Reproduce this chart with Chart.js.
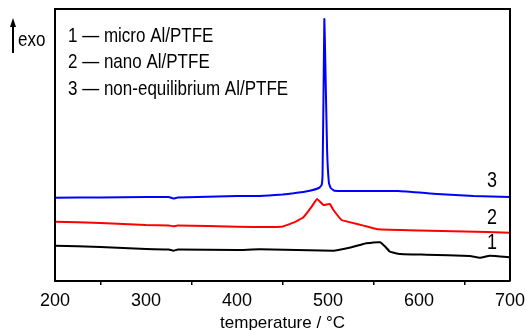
<!DOCTYPE html>
<html>
<head>
<meta charset="utf-8">
<script src="https://cdn.jsdelivr.net/npm/chart.js@4/dist/chart.umd.min.js"></script>
<style>
  html, body { margin: 0; padding: 0; background: #fff; }
  #wrap { width: 525px; height: 330px; }
</style>
</head>
<body>
<div id="wrap"><canvas id="dsc"></canvas></div>
<script>
// temperatures (°C) and heat-flow readings (arbitrary units, exo up)
const temp1 = [200, 250, 300, 325, 330, 335, 400, 425, 506, 521, 535, 542, 557, 563, 568, 579, 608, 656, 667, 678, 700];
const micro = [35.3, 34, 32, 31.5, 30.3, 31.5, 31, 31.7, 30.3, 32.7, 36, 37.7, 38.7, 34.3, 29.3, 27, 26.3, 25, 23.3, 25.3, 23.7];

const temp2 = [200, 250, 300, 325, 330, 335, 400, 449, 462, 473, 482, 488, 495, 502, 506, 515, 532, 544, 555, 600, 650, 700];
const nano = [59.3, 58, 56, 55.5, 54.7, 55.5, 54.3, 54.3, 58.3, 63.7, 74.3, 82, 76, 77, 71, 61, 57, 54.3, 51.7, 50.5, 49.5, 48.3];

const temp3 = [200, 250, 300, 325, 330, 335, 400, 425, 450, 462, 480, 490, 493, 494, 495, 496, 497, 499, 501, 503, 507, 520, 577, 620, 660, 700];
const nonEq = [83.3, 83.5, 84, 84, 82.5, 83.5, 85, 85, 86.5, 87.7, 90.3, 93, 96, 106, 181, 262, 221, 131, 98, 93, 90.3, 90, 90, 87, 85, 84];

const legendLines = ['1 \u2014 micro Al/PTFE', '2 \u2014 nano Al/PTFE', '3 \u2014 non-equilibrium Al/PTFE'];
const curveTags = ['1', '2', '3'];
const tagLevels = [38, 63, 100];

function pts(xs, ys) {
    return xs.map((x, i) => ({ x: x, y: ys[i] }));
}

const FONT = '"Liberation Sans", Arial, sans-serif';

// stretched text, the source figure has tall glyphs
function tallText(ctx, txt, x, y, size, align) {
    ctx.save();
    ctx.font = size + 'px ' + FONT;
    ctx.textAlign = align || 'left';
    ctx.textBaseline = 'middle';
    ctx.translate(x, y);
    ctx.scale(1, 1.2);
    ctx.fillText(txt, 0, 0);
    ctx.restore();
}

const decor = {
    id: 'decor',
    afterDraw(chart) {
        const ctx = chart.ctx;
        const a = chart.chartArea;
        const ys = chart.scales.y;
        ctx.save();
        // frame
        ctx.strokeStyle = '#000';
        ctx.lineWidth = 2;
        ctx.beginPath();
        ctx.moveTo(a.left, a.bottom);
        ctx.lineTo(a.left, a.top);
        ctx.lineTo(a.right, a.top);
        ctx.lineTo(a.right, a.bottom);
        ctx.stroke();

        ctx.fillStyle = '#000';
        legendLines.forEach((t, i) => tallText(ctx, t, a.left + 13, 36 + i * 26.5, 17));

        // exo arrow
        ctx.lineWidth = 2;
        ctx.beginPath();
        ctx.moveTo(13, 53);
        ctx.lineTo(13, 24);
        ctx.stroke();
        ctx.beginPath();
        ctx.moveTo(13, 18);
        ctx.lineTo(10, 27);
        ctx.lineTo(16, 27);
        ctx.closePath();
        ctx.fill();
        tallText(ctx, 'exo', 18, 40, 17);

        curveTags.forEach((t, i) => tallText(ctx, t, a.right - 18, ys.getPixelForValue(tagLevels[i]), 18, 'center'));
        ctx.restore();
    }
};

new Chart(document.getElementById('dsc'), {
    type: 'line',
    data: {
        datasets: [
            { label: 'micro Al/PTFE', data: pts(temp1, micro), borderColor: '#000000' },
            { label: 'nano Al/PTFE', data: pts(temp2, nano), borderColor: '#ff0000' },
            { label: 'non-equilibrium Al/PTFE', data: pts(temp3, nonEq), borderColor: '#0000ff' }
        ]
    },
    options: {
        responsive: true,
        maintainAspectRatio: false,
        animation: false,
        layout: { padding: { left: 55, right: 15, top: 9, bottom: 0 } },
        elements: {
            line: { borderWidth: 2, tension: 0.1 },
            point: { radius: 0 }
        },
        plugins: {
            legend: { display: false },
            tooltip: { enabled: false }
        },
        scales: {
            x: {
                type: 'linear',
                min: 200,
                max: 700,
                afterFit: (s) => { s.height = 49; s.paddingLeft = 0; s.paddingRight = 0; },
                border: { display: true, color: '#000', width: 2 },
                grid: {
                    drawOnChartArea: false,
                    drawTicks: true,
                    tickLength: 4,
                    lineWidth: 1.5,
                    color: (c) => (c.tick && c.tick.value % 100 === 0) ? 'rgba(0,0,0,0)' : '#000'
                },
                ticks: {
                    stepSize: 50,
                    autoSkip: false,
                    maxRotation: 0,
                    padding: 5,
                    color: '#000',
                    font: { family: FONT, size: 18 },
                    callback: (v) => v % 100 === 0 ? v : ''
                },
                title: {
                    display: true,
                    text: 'temperature / \u00b0C',
                    color: '#000',
                    padding: 0,
                    font: { family: FONT, size: 17, lineHeight: 0.8 }
                }
            },
            y: {
                display: false,
                min: 0,
                max: 272
            }
        }
    },
    plugins: [decor]
});
</script>
</body>
</html>
